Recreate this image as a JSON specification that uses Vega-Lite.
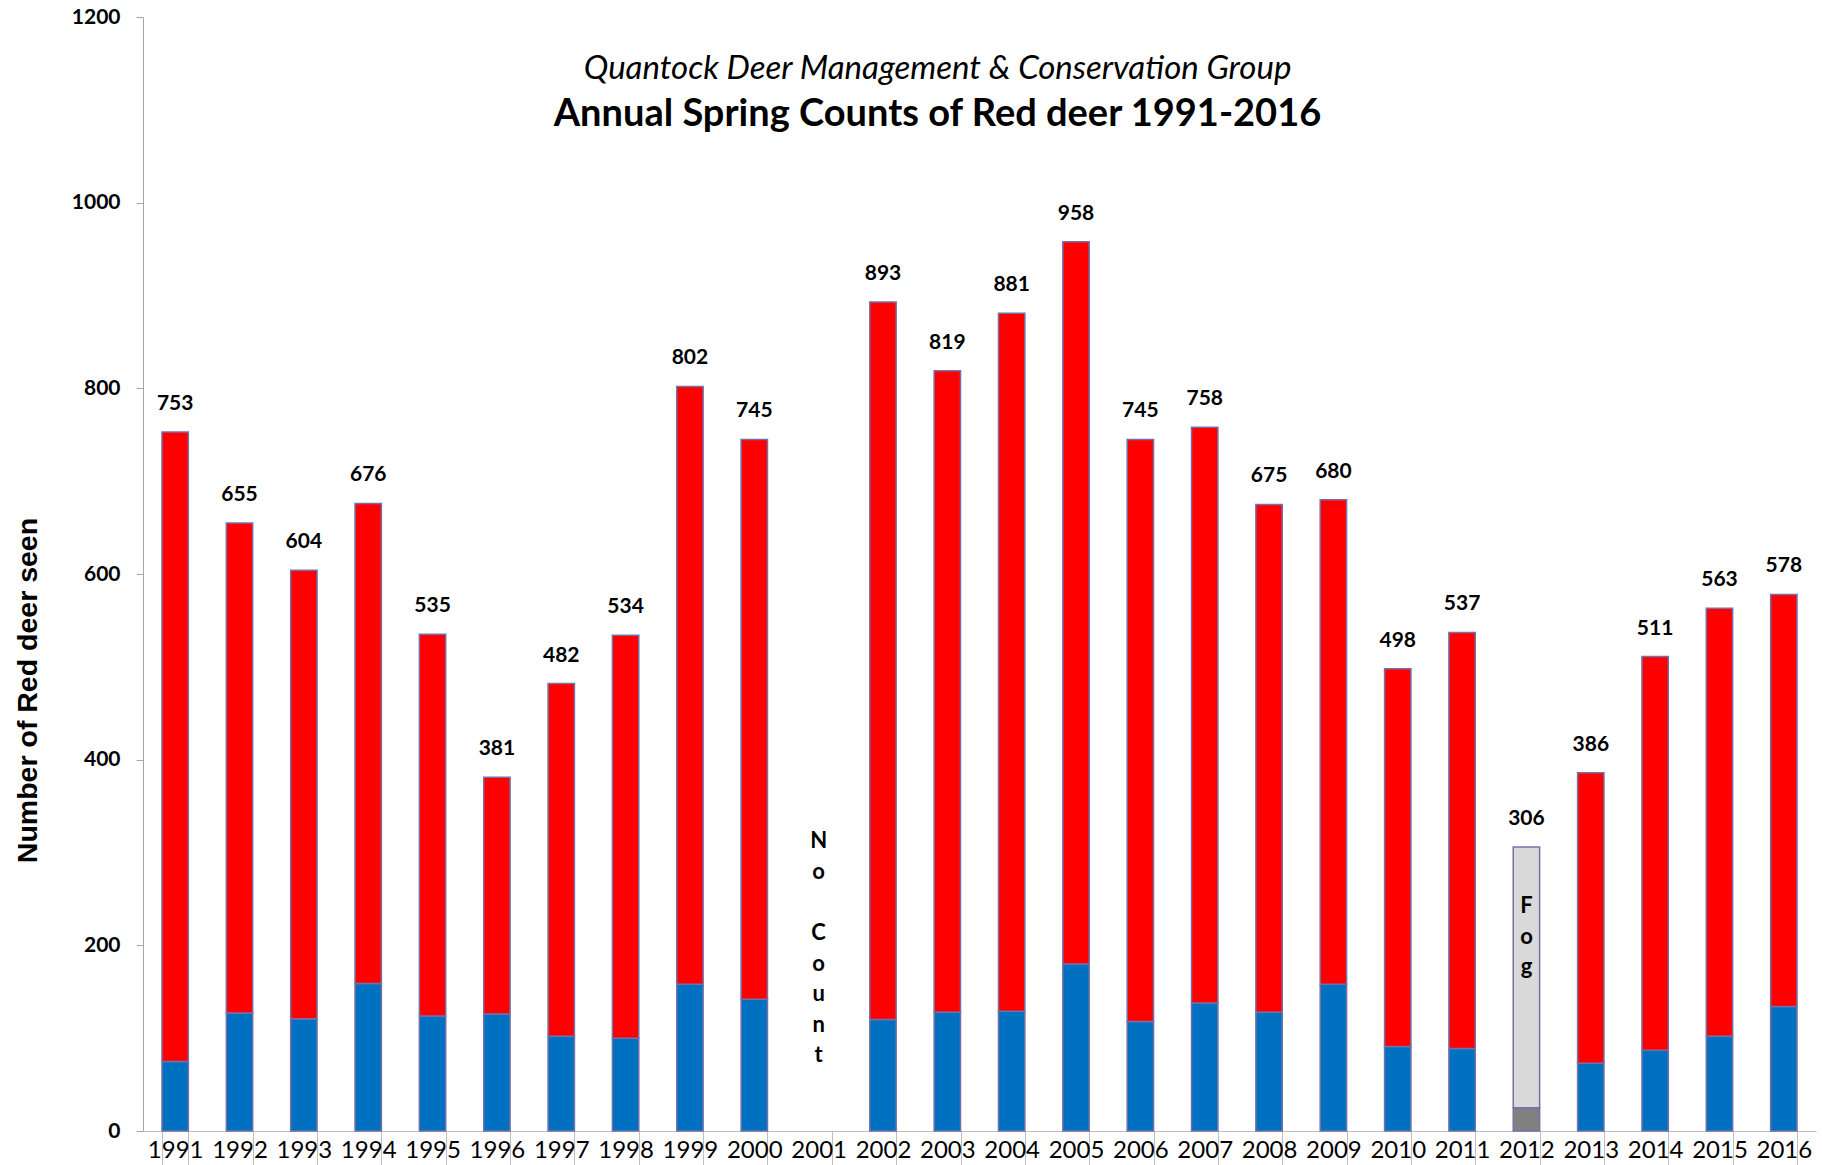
{
 "$schema": "https://vega.github.io/schema/vega-lite/v6.json",
 "width": 1673, "height": 1114,
 "autosize": {"type": "none"},
 "padding": {"left": 143, "top": 17, "right": 6, "bottom": 34},
 "background": "white",
 "config": {"view": {"stroke": null}, "font": "Lato"},
 "title": {
  "text": "Quantock Deer Management & Conservation Group",
  "subtitle": "Annual Spring Counts of Red deer 1991-2016",
  "font": "Lato", "fontStyle": "italic", "fontWeight": "normal", "fontSize": 33, "color": "black",
  "subtitleFont": "Lato", "subtitleFontWeight": "bold", "subtitleFontSize": 38, "subtitleColor": "black",
  "subtitlePadding": 10, "anchor": "middle", "frame": "group", "offset": -128, "dx": -42
 },
 "datasets": {
  "segments": [
   {"year":"1991","group":"A","count":75},{"year":"1991","group":"B","count":678},
   {"year":"1992","group":"A","count":127},{"year":"1992","group":"B","count":528},
   {"year":"1993","group":"A","count":121},{"year":"1993","group":"B","count":483},
   {"year":"1994","group":"A","count":159},{"year":"1994","group":"B","count":517},
   {"year":"1995","group":"A","count":124},{"year":"1995","group":"B","count":411},
   {"year":"1996","group":"A","count":126},{"year":"1996","group":"B","count":255},
   {"year":"1997","group":"A","count":102},{"year":"1997","group":"B","count":380},
   {"year":"1998","group":"A","count":100},{"year":"1998","group":"B","count":434},
   {"year":"1999","group":"A","count":158},{"year":"1999","group":"B","count":644},
   {"year":"2000","group":"A","count":142},{"year":"2000","group":"B","count":603},
   {"year":"2002","group":"A","count":120},{"year":"2002","group":"B","count":773},
   {"year":"2003","group":"A","count":128},{"year":"2003","group":"B","count":691},
   {"year":"2004","group":"A","count":129},{"year":"2004","group":"B","count":752},
   {"year":"2005","group":"A","count":180},{"year":"2005","group":"B","count":778},
   {"year":"2006","group":"A","count":118},{"year":"2006","group":"B","count":627},
   {"year":"2007","group":"A","count":138},{"year":"2007","group":"B","count":620},
   {"year":"2008","group":"A","count":128},{"year":"2008","group":"B","count":547},
   {"year":"2009","group":"A","count":158},{"year":"2009","group":"B","count":522},
   {"year":"2010","group":"A","count":91},{"year":"2010","group":"B","count":407},
   {"year":"2011","group":"A","count":89},{"year":"2011","group":"B","count":448},
   {"year":"2012","group":"A (fog)","count":25},{"year":"2012","group":"B (fog)","count":281},
   {"year":"2013","group":"A","count":73},{"year":"2013","group":"B","count":313},
   {"year":"2014","group":"A","count":87},{"year":"2014","group":"B","count":424},
   {"year":"2015","group":"A","count":102},{"year":"2015","group":"B","count":461},
   {"year":"2016","group":"A","count":134},{"year":"2016","group":"B","count":444}
  ],
  "totals": [
   {"year":"1991","total":753},{"year":"1992","total":655},{"year":"1993","total":604},
   {"year":"1994","total":676},{"year":"1995","total":535},{"year":"1996","total":381},
   {"year":"1997","total":482},{"year":"1998","total":534},{"year":"1999","total":802},
   {"year":"2000","total":745},{"year":"2002","total":893},{"year":"2003","total":819},
   {"year":"2004","total":881},{"year":"2005","total":958},{"year":"2006","total":745},
   {"year":"2007","total":758},{"year":"2008","total":675},{"year":"2009","total":680},
   {"year":"2010","total":498},{"year":"2011","total":537},{"year":"2012","total":306},
   {"year":"2013","total":386},{"year":"2014","total":511},{"year":"2015","total":563},
   {"year":"2016","total":578}
  ],
  "notes": [
   {"year":"2001","note":"N\no","at":312},
   {"year":"2001","note":"C\no\nu\nn\nt","at":213},
   {"year":"2012","note":"F\no\ng","at":242}
  ]
 },
 "layer": [
  {
   "data": {"name": "segments"},
   "mark": {"type": "bar", "stroke": "#7272a8", "strokeWidth": 1.5},
   "encoding": {
    "x": {
     "field": "year", "type": "ordinal",
     "scale": {
      "domain": ["1991","1992","1993","1994","1995","1996","1997","1998","1999","2000","2001","2002","2003","2004","2005","2006","2007","2008","2009","2010","2011","2012","2013","2014","2015","2016"],
      "paddingInner": 0.59, "paddingOuter": 0.295
     },
     "axis": {
      "title": null, "labelAngle": 0, "labelFont": "Lato", "labelFontSize": 24, "labelColor": "black",
      "tickBand": "extent", "tickSize": 36, "tickColor": "#bfbfbf", "tickWidth": 1,
      "domainColor": "#bfbfbf", "domainWidth": 1, "labelPadding": -17, "labelBaseline": "middle"
     }
    },
    "y": {
     "field": "count", "type": "quantitative", "stack": "zero",
     "scale": {"domain": [0, 1200], "nice": false},
     "axis": {
      "values": [0,200,400,600,800,1000,1200], "grid": false, "format": "d",
      "labelFont": "Lato", "labelFontSize": 21, "labelFontWeight": "bold", "labelColor": "black", "labelPadding": 16,
      "tickSize": 7, "tickColor": "#a6a6a6", "domainColor": "#a6a6a6",
      "title": "Number of Red deer seen", "titleFont": "Liberation Sans", "titleFontWeight": "bold",
      "titleFontSize": 28.5, "titleColor": "black", "titleAngle": -90, "titleX": -116, "titleY": 673,
      "titleAlign": "center", "titleBaseline": "middle"
     }
    },
    "color": {
     "field": "group", "type": "nominal",
     "scale": {"domain": ["A","B","A (fog)","B (fog)"], "range": ["#0070C0","#FF0000","#808080","#D9D9D9"]},
     "legend": null
    },
    "order": {"field": "group", "sort": "ascending"}
   }
  },
  {
   "data": {"name": "totals"},
   "mark": {"type": "text", "font": "Lato", "fontWeight": "bold", "fontSize": 21, "dy": -28, "baseline": "middle", "color": "black"},
   "encoding": {
    "x": {"field": "year", "type": "ordinal"},
    "y": {"field": "total", "type": "quantitative"},
    "text": {"field": "total", "type": "quantitative"}
   }
  },
  {
   "data": {"name": "notes"},
   "mark": {"type": "text", "font": "Lato", "fontWeight": "bold", "fontSize": 22, "baseline": "middle", "lineBreak": "\n", "lineHeight": 30.5, "color": "black"},
   "encoding": {
    "x": {"field": "year", "type": "ordinal"},
    "y": {"field": "at", "type": "quantitative"},
    "text": {"field": "note", "type": "nominal"}
   }
  }
 ]
}
